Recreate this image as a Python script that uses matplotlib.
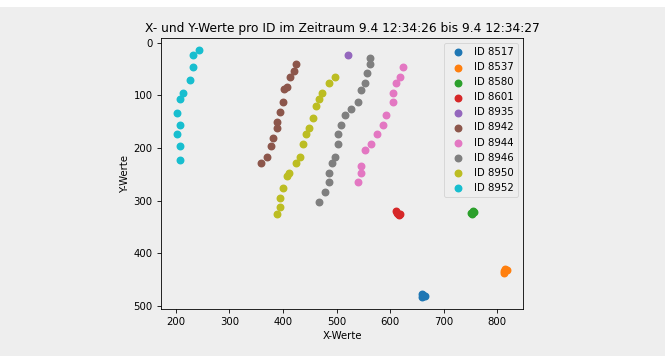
import numpy as np
import matplotlib
matplotlib.use('Agg')
import matplotlib.pyplot as plt

# Werte pro ID
ids = ['8517', '8537', '8580', '8601', '8935', '8942', '8944', '8946', '8950', '8952']

x_8517 = [659, 664, 662, 660]
y_8517 = [477, 482, 480, 483]
x_8537 = [815, 812, 817, 813]
y_8537 = [430, 434, 433, 437]
x_8580 = [750, 754, 757, 752]
y_8580 = [324, 320, 322, 325]
x_8601 = [611, 615, 618, 613, 616]
y_8601 = [320, 326, 325, 323, 327]
x_8935 = [521]
y_8935 = [22]
x_8942 = [425, 420, 413, 407, 401, 400, 395, 389, 389, 382, 377, 371, 358]
y_8942 = [40, 53, 65, 83, 88, 112, 132, 150, 161, 180, 197, 218, 228]
x_8944 = [623, 618, 611, 606, 606, 593, 587, 576, 564, 552, 546, 546, 540]
y_8944 = [46, 65, 77, 95, 112, 138, 156, 174, 192, 204, 235, 247, 265]
x_8946 = [563, 563, 557, 552, 546, 540, 527, 515, 509, 503, 503, 497, 491,
          485, 485, 479, 467]
y_8946 = [28, 40, 58, 77, 89, 112, 125, 138, 156, 174, 192, 217, 228,
          247, 265, 284, 303]
x_8950 = [497, 485, 472, 467, 462, 455, 449, 443, 437, 431, 425, 412, 407,
          400, 395, 395, 389]
y_8950 = [65, 76, 95, 107, 120, 143, 161, 174, 192, 217, 228, 247, 253,
          277, 295, 313, 326]
x_8952 = [243, 232, 232, 226, 214, 208, 203, 208, 203, 208, 208]
y_8952 = [14, 22, 46, 70, 95, 107, 133, 156, 174, 197, 223]

xs = [x_8517, x_8537, x_8580, x_8601, x_8935, x_8942, x_8944, x_8946, x_8950, x_8952]
ys = [y_8517, y_8537, y_8580, y_8601, y_8935, y_8942, y_8944, y_8946, y_8950, y_8952]

bg = '#eeeeee'
fig = plt.figure(figsize=(6.65, 3.56), dpi=100, facecolor=bg)
# weisser Streifen oben im Bild
fig.patches.append(plt.Rectangle((0, 0.98), 1, 0.02, transform=fig.transFigure,
                                 facecolor='white', edgecolor='none', zorder=-1))
ax = fig.add_axes([161 / 665, 47 / 356, 362 / 665, 271 / 356])
ax.set_facecolor(bg)

for i, id_ in enumerate(ids):
    ax.scatter(xs[i], ys[i], s=22, color='C%d' % i, label='ID ' + id_)

ax.invert_yaxis()
ax.set_xticks([200, 300, 400, 500, 600, 700, 800])
ax.set_yticks([0, 100, 200, 300, 400, 500])
ax.tick_params(labelsize=7.3, length=2.6, width=0.6)
for s in ax.spines.values():
    s.set_linewidth(0.6)

ax.set_xlabel('X-Werte', fontsize=7.3, labelpad=2.5)
ax.set_ylabel('Y-Werte', fontsize=7.3, labelpad=2.5)
ax.set_title('X- und Y-Werte pro ID im Zeitraum 9.4 12:34:26 bis 9.4 12:34:27',
             fontsize=8.8, pad=4.4)

leg = ax.legend(loc='upper right', fontsize=7.3, facecolor=bg, framealpha=0.8,
                borderpad=0.4, labelspacing=0.5, handletextpad=0.6)
leg.get_frame().set_linewidth(0.6)

fig.savefig('out.png', dpi=100, facecolor=bg)
